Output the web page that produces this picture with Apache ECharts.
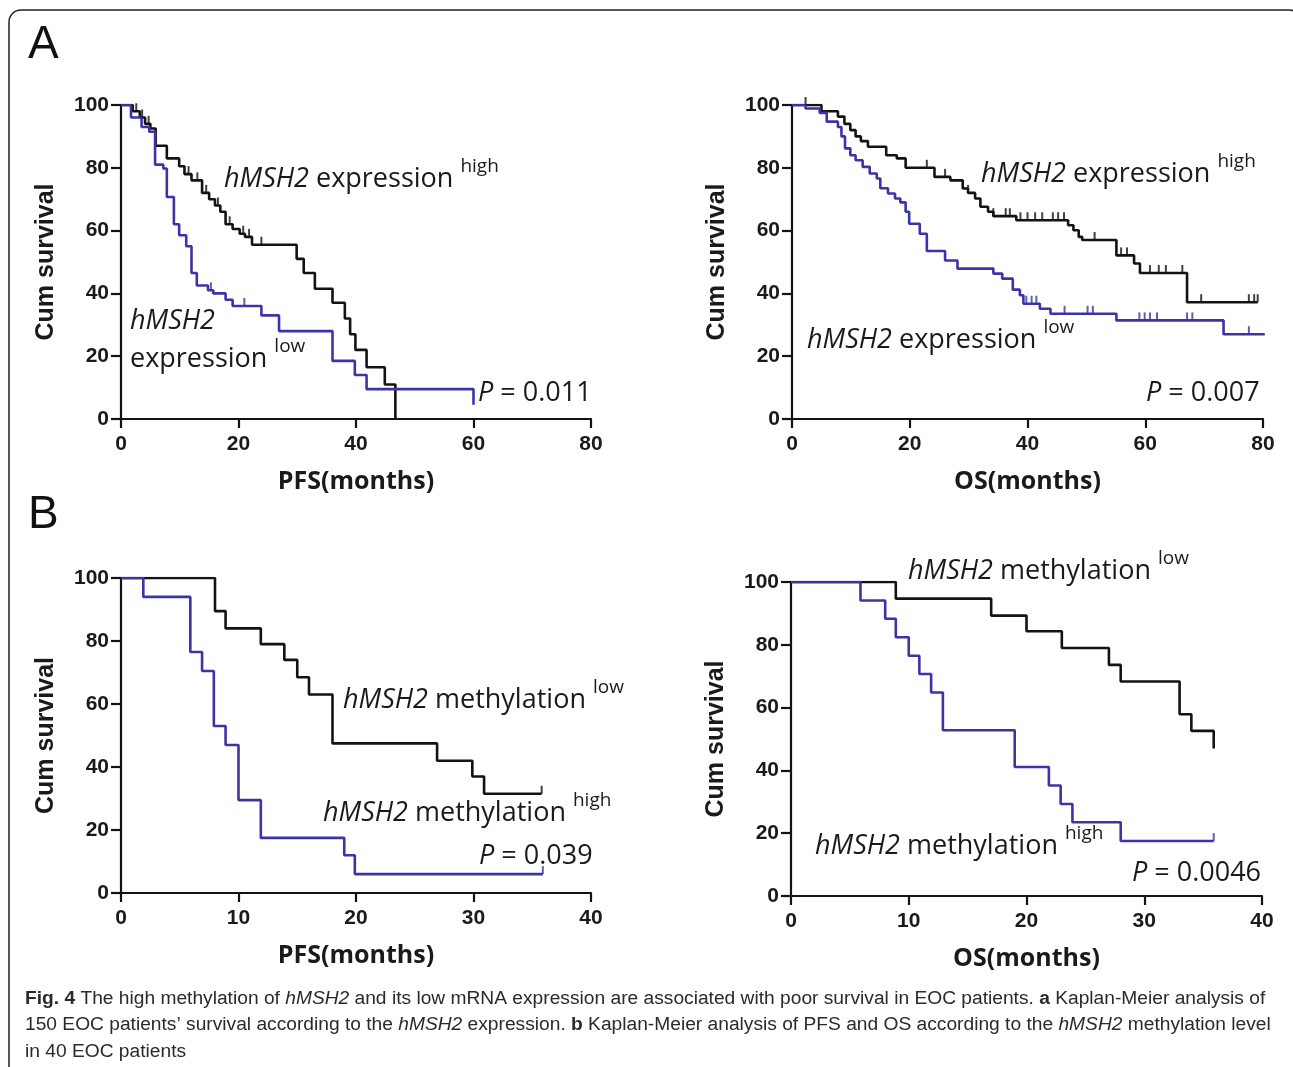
<!DOCTYPE html>
<html>
<head>
<meta charset="utf-8">
<script src="https://cdn.jsdelivr.net/npm/echarts@6/dist/echarts.min.js"></script>
<style>
html,body{margin:0;padding:0;background:#fff;}
#chart{width:1293px;height:1067px;}
</style>
</head>
<body>
<div id="chart"></div>
<script>
// ---------- DATA ----------
// Panel A, PFS, hMSH2 expression high (black)
const aPfsHighT = [0, 2.0, 3.2, 4.1, 5.0, 5.9, 7.8, 9.9, 10.8, 12.0, 13.8, 15.0, 16.0, 16.9, 17.8, 19.0, 20.2, 21.1, 22.3, 29.9, 31.1, 33.0, 36.0, 38.1, 39.0, 39.9, 41.8, 44.9, 46.7];
const aPfsHighS = [100, 98, 96, 94, 92.5, 87, 83, 80.5, 78, 76, 72, 70, 68, 66, 62, 60.5, 59, 58, 55.5, 51, 46.5, 41.5, 37, 32, 27, 22, 16.5, 11, 0];
const aPfsHighCens = [2.6, 3.6, 4.7, 11.5, 13.0, 14.5, 16.5, 18.5, 20.8, 21.8, 23.9];
// Panel A, PFS, hMSH2 expression low (blue)
const aPfsLowT = [0, 1.7, 3.5, 4.8, 5.8, 7.2, 7.8, 9.0, 9.9, 11.1, 12.0, 12.9, 14.8, 15.7, 17.8, 19.0, 23.9, 26.9, 36.0, 39.8, 41.8, 60.0];
const aPfsLowS = [100, 96, 93, 91.5, 81, 79.8, 70.7, 62, 58.5, 55, 46.5, 42.5, 41, 40, 38, 36, 33, 28, 18.5, 14, 9.5, 4.5];
const aPfsLowCens = [15.3, 21.0];
// Panel A, OS, hMSH2 expression high (black)
const aOsHighT = [0, 5.0, 7.8, 8.9, 9.9, 10.8, 11.7, 12.9, 16.0, 17.8, 19.3, 24.2, 26.9, 29.0, 29.9, 31.1, 32.0, 33.3, 34.2, 38.1, 46.9, 47.8, 48.7, 49.3, 55.1, 58.1, 59.1, 67.1, 79.1];
const aOsHighS = [100, 98, 96.3, 94, 92, 90, 88.5, 86.7, 84, 83, 80, 77.1, 76, 73.4, 72, 70.2, 67.6, 66, 64.6, 63.3, 61.7, 60.1, 58, 57, 52.1, 49.5, 46.5, 37.2, 37.2];
const aOsHighCens = [2.3, 22.9, 26.0, 29.9, 34.2, 36.3, 37.0, 38.8, 40.0, 41.3, 42.5, 44.3, 45.2, 46.2, 51.4, 55.9, 56.9, 60.8, 62.3, 63.5, 66.3, 69.5, 77.6, 78.5, 79.1];
// Panel A, OS, hMSH2 expression low (blue)
const aOsLowT = [0, 2.3, 4.7, 5.9, 7.8, 8.4, 9.0, 9.9, 10.8, 12.0, 13.2, 14.4, 15.0, 16.3, 17.5, 18.4, 19.3, 19.9, 21.7, 22.9, 26.0, 28.1, 34.2, 35.7, 37.5, 38.7, 39.3, 42.1, 43.9, 55.1, 73.3, 80.3];
const aOsLowS = [100, 98.9, 97.5, 94.7, 93, 90, 86.2, 84, 82.4, 80.3, 78.2, 76.6, 73.5, 71.8, 70.2, 69, 66, 62.2, 59, 53.5, 50.5, 47.9, 46.3, 44.7, 41.2, 39.4, 36.7, 35.1, 33.5, 31.4, 27, 27];
const aOsLowCens = [39.8, 40.7, 41.5, 46.3, 50.2, 51.1, 59.0, 59.9, 60.8, 62.0, 67.1, 68.0, 77.6, 80.3];
// Panel B, PFS, hMSH2 methylation low (black)
const bPfsLowT = [0, 8.0, 8.9, 11.9, 13.9, 15.0, 16.0, 18.0, 26.9, 29.9, 30.9, 35.8];
const bPfsLowS = [100, 89.5, 84, 79, 74, 68.5, 63, 47.5, 42, 37, 31.5, 31.5];
const bPfsLowCens = [35.8];
// Panel B, PFS, hMSH2 methylation high (blue)
const bPfsHighT = [0, 1.9, 5.9, 6.9, 7.9, 8.9, 10.0, 11.9, 19.0, 19.9, 35.9];
const bPfsHighS = [100, 94, 76.5, 70.5, 53, 47, 29.5, 17.5, 12, 6, 6];
const bPfsHighCens = [35.9];
// Panel B, OS, hMSH2 methylation low (black)
const bOsLowT = [0, 8.9, 17.0, 20.0, 23.0, 27.0, 28.0, 33.0, 34.0, 35.9];
const bOsLowS = [100, 94.7, 89.3, 84.3, 79, 73.6, 68.3, 57.9, 52.6, 47];
const bOsLowCens = [];
// Panel B, OS, hMSH2 methylation high (blue)
const bOsHighT = [0, 5.9, 8.0, 8.9, 10.0, 10.9, 11.9, 12.9, 19.0, 21.9, 22.9, 23.9, 28.0, 35.9];
const bOsHighS = [100, 94.1, 88.3, 82.4, 76.5, 70.7, 64.8, 52.8, 41.1, 35.2, 29.3, 23.5, 17.5, 17.5];
const bOsHighCens = [35.9];

const yTicks = [0, 20, 40, 60, 80, 100];
const xTicksA = [0, 20, 40, 60, 80];
const xTicksB = [0, 10, 20, 30, 40];

// ---------- helpers ----------
const BLACK = '#141212';
const BLUE = '#3b34a6';
function pairs(t, s) { return t.map((v, i) => [v, s[i]]); }
function valueAt(t, s, x) { let v = s[0]; for (let i = 0; i < t.length; i++) { if (t[i] <= x) v = s[i]; } return v; }
function cens(t, s, c) { return c.map(x => [x, valueAt(t, s, x)]); }

const panels = [
  { grid: {left: 121, top: 105, width: 470, height: 314}, xTicks: xTicksA, xName: 'PFS(months)',
    curves: [[aPfsHighT, aPfsHighS, aPfsHighCens, BLACK], [aPfsLowT, aPfsLowS, aPfsLowCens, BLUE]] },
  { grid: {left: 792, top: 105, width: 471, height: 314}, xTicks: xTicksA, xName: 'OS(months)',
    curves: [[aOsHighT, aOsHighS, aOsHighCens, BLACK], [aOsLowT, aOsLowS, aOsLowCens, BLUE]] },
  { grid: {left: 121, top: 578, width: 470, height: 315}, xTicks: xTicksB, xName: 'PFS(months)',
    curves: [[bPfsLowT, bPfsLowS, bPfsLowCens, BLACK], [bPfsHighT, bPfsHighS, bPfsHighCens, BLUE]] },
  { grid: {left: 791, top: 582, width: 471, height: 314}, xTicks: xTicksB, xName: 'OS(months)',
    curves: [[bOsLowT, bOsLowS, bOsLowCens, BLACK], [bOsHighT, bOsHighS, bOsHighCens, BLUE]] }
];

const TICK_FONT = "'Liberation Sans', Arial, sans-serif";
const LBL_FONT = "'Open Sans', 'Noto Sans', sans-serif";
const axisLineStyle = { color: BLACK, width: 2.2 };

const grids = [], xAxes = [], yAxes = [], series = [];
panels.forEach((p, i) => {
  grids.push(Object.assign({ containLabel: false }, p.grid));
  const xt = p.xTicks;
  xAxes.push({
    type: 'value', gridIndex: i, min: xt[0], max: xt[xt.length - 1], interval: xt[1] - xt[0],
    axisLine: { show: true, onZero: false, lineStyle: axisLineStyle },
    axisTick: { show: true, length: 9, lineStyle: axisLineStyle },
    splitLine: { show: false },
    axisLabel: { margin: 15, color: '#1a1a1a', fontSize: 21, fontWeight: 'bold', fontFamily: TICK_FONT },
    name: p.xName, nameLocation: 'middle', nameGap: 50,
    nameTextStyle: { color: '#1a1a1a', fontSize: 25, fontWeight: 'bold', fontFamily: LBL_FONT }
  });
  yAxes.push({
    type: 'value', gridIndex: i, min: yTicks[0], max: yTicks[yTicks.length - 1], interval: yTicks[1] - yTicks[0],
    axisLine: { show: true, lineStyle: axisLineStyle },
    axisTick: { show: true, length: 10, lineStyle: axisLineStyle },
    splitLine: { show: false },
    axisLabel: { margin: 12, color: '#1a1a1a', fontSize: 21, fontWeight: 'bold', fontFamily: TICK_FONT },
    name: 'Cum survival', nameLocation: 'middle', nameRotate: 90, nameGap: 62,
    nameTextStyle: { color: '#1a1a1a', fontSize: 25, fontWeight: 'bold', fontFamily: TICK_FONT }
  });
  p.curves.forEach(c => {
    series.push({
      type: 'line', xAxisIndex: i, yAxisIndex: i, step: 'end', showSymbol: false, symbol: 'none',
      data: pairs(c[0], c[1]), lineStyle: { color: c[3], width: 2.6 }, itemStyle: { color: c[3] },
      animation: false, silent: true, z: 3
    });
    if (c[2].length) series.push({
      type: 'scatter', xAxisIndex: i, yAxisIndex: i, symbol: 'rect', symbolSize: [2, 8], symbolOffset: [0, -4],
      data: cens(c[0], c[1], c[2]), itemStyle: { color: c[3] }, animation: false, silent: true, z: 4
    });
  });
});

// ---------- annotations (layout) ----------
const richLbl = {
  i: { fontFamily: LBL_FONT, fontStyle: 'italic', fontSize: 27, color: '#1a1a1a', verticalAlign: 'bottom' },
  n: { fontFamily: LBL_FONT, fontSize: 27, color: '#1a1a1a', verticalAlign: 'bottom' },
  s: { fontFamily: LBL_FONT, fontSize: 19, color: '#1a1a1a', verticalAlign: 'bottom', padding: [0, 0, 16, 0] }
};
function label(x, y, text) {
  return { type: 'text', x: x, y: y, z: 10, silent: true,
    style: { text: text, rich: richLbl, align: 'left', verticalAlign: 'middle', fill: '#1a1a1a' } };
}
const graphics = [
  { type: 'rect', shape: { x: 9, y: 10, width: 1292, height: 1100, r: 12 }, style: { fill: 'none', stroke: '#222', lineWidth: 1.5 }, silent: true },
  { type: 'text', x: 28, y: 45, style: { text: 'A', font: "46px 'Liberation Sans', Arial, sans-serif", fill: '#111', verticalAlign: 'middle' } },
  { type: 'text', x: 28, y: 515, style: { text: 'B', font: "46px 'Liberation Sans', Arial, sans-serif", fill: '#111', verticalAlign: 'middle' } },
  label(224, 175, '{i|hMSH2}{n| expression }{s|high}'),
  label(130, 321, '{i|hMSH2}'),
  label(130, 355, '{n|expression }{s|low}'),
  label(478, 393, '{i|P}{n| = 0.011}'),
  label(981, 170, '{i|hMSH2}{n| expression }{s|high}'),
  label(807, 336, '{i|hMSH2}{n| expression }{s|low}'),
  label(1146, 393, '{i|P}{n| = 0.007}'),
  label(343, 696, '{i|hMSH2}{n| methylation }{s|low}'),
  label(323, 809, '{i|hMSH2}{n| methylation }{s|high}'),
  label(479, 856, '{i|P}{n| = 0.039}'),
  label(908, 567, '{i|hMSH2}{n| methylation }{s|low}'),
  label(815, 842, '{i|hMSH2}{n| methylation }{s|high}'),
  label(1132, 873, '{i|P}{n| = 0.0046}'),
  { type: 'text', x: 25, y: 985, silent: true,
    style: {
      text: '{b|Fig. 4} The high methylation of {i|hMSH2} and its low mRNA expression are associated with poor survival in EOC patients. {b|a} Kaplan-Meier analysis of\n' +
            '150 EOC patients\u2019 survival according to the {i|hMSH2} expression. {b|b} Kaplan-Meier analysis of PFS and OS according to the {i|hMSH2} methylation level\n' +
            'in 40 EOC patients',
      font: "19.2px 'Liberation Sans Narrow', 'Liberation Sans', sans-serif", fill: '#2a2a2a', lineHeight: 26.5,
      rich: {
        b: { fontFamily: "'Liberation Sans Narrow', 'Liberation Sans', sans-serif", fontSize: 19.2, fontWeight: 'bold', color: '#1a1a1a', lineHeight: 26.5 },
        i: { fontFamily: "'Liberation Sans Narrow', 'Liberation Sans', sans-serif", fontSize: 19.2, fontStyle: 'italic', color: '#2a2a2a', lineHeight: 26.5 }
      }
    } }
];

const chart = echarts.init(document.getElementById('chart'), null, { renderer: 'canvas' });
chart.setOption({
  animation: false,
  backgroundColor: '#fff',
  grid: grids, xAxis: xAxes, yAxis: yAxes, series: series, graphic: graphics
});
</script>
</body>
</html>
